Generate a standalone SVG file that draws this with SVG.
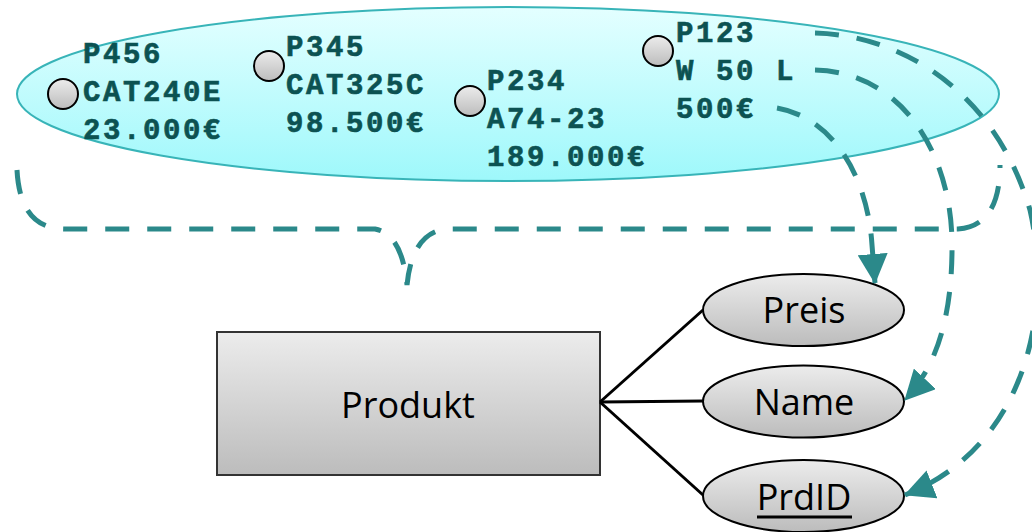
<svg xmlns="http://www.w3.org/2000/svg" width="1032" height="532" viewBox="0 0 1032 532">
  <defs>
    <linearGradient id="cloudFill" x1="0" y1="0" x2="0" y2="1">
      <stop offset="0" stop-color="#e4ffff"/>
      <stop offset="1" stop-color="#9ef8fb"/>
    </linearGradient>
    <linearGradient id="greyFill" x1="0" y1="0" x2="0" y2="1">
      <stop offset="0" stop-color="#ececec"/>
      <stop offset="1" stop-color="#bcbcbc"/>
    </linearGradient>
    <marker id="arrow" markerUnits="userSpaceOnUse" viewBox="0 0 30 30" markerWidth="30" markerHeight="30" refX="29" refY="15" orient="auto">
      <path d="M0,0 L30,15 L0,30 Z" fill="#2b898a"/>
    </marker>
    <style>
      .inst { font-family: "Liberation Mono", "Courier New", monospace; font-weight: bold; font-size: 29px; letter-spacing: 2.6px; fill: #0c5252; stroke: #0c5252; stroke-width: 0.6px; }
      .dot { fill: url(#greyFill); stroke: #000; stroke-width: 2; }
      .er { fill: url(#greyFill); stroke: #000; stroke-width: 2; }
      .label { font-family: "Open Sans", "Noto Sans", sans-serif; font-size: 36px; fill: #000; text-anchor: middle; }
      .dash { fill: none; stroke: #2b898a; stroke-width: 5; stroke-dasharray: 24 18; }
      .link { fill: none; stroke: #000; stroke-width: 3; }
    </style>
  </defs>

  <!-- instance set -->
  <g id="instances">
    <ellipse cx="508" cy="94" rx="491" ry="87" fill="url(#cloudFill)" stroke="#38b4b8" stroke-width="2"/>
  </g>

  <g id="p456">
    <circle class="dot" cx="63" cy="94" r="15"/>
    <text class="inst" x="83" y="63">P456</text>
    <text class="inst" x="83" y="101">CAT240E</text>
    <text class="inst" x="83" y="139">23.000€</text>
  </g>
  <g id="p345">
    <circle class="dot" cx="269" cy="66" r="15"/>
    <text class="inst" x="286" y="56">P345</text>
    <text class="inst" x="286" y="94">CAT325C</text>
    <text class="inst" x="286" y="132">98.500€</text>
  </g>
  <g id="p234">
    <circle class="dot" cx="470" cy="101" r="15"/>
    <text class="inst" x="487" y="90">P234</text>
    <text class="inst" x="487" y="128">A74-23</text>
    <text class="inst" x="487" y="166">189.000€</text>
  </g>
  <g id="p123">
    <circle class="dot" cx="658" cy="51" r="15"/>
    <text class="inst" x="676" y="42">P123</text>
    <text class="inst" x="676" y="80">W 50 L</text>
    <text class="inst" x="676" y="118">500€</text>
  </g>

  <!-- entity and attributes -->
  <g id="produkt">
    <rect x="217" y="332" width="383" height="143" fill="url(#greyFill)" stroke="#333" stroke-width="2"/>
    <text class="label" x="408" y="418">Produkt</text>
  </g>
  <g id="preis">
    <ellipse class="er" cx="803.5" cy="310" rx="100.5" ry="36"/>
    <text class="label" x="804" y="323">Preis</text>
  </g>
  <g id="name">
    <ellipse class="er" cx="803.5" cy="401.5" rx="100.5" ry="36"/>
    <text class="label" x="804" y="415">Name</text>
  </g>
  <g id="prdid">
    <ellipse class="er" cx="803.5" cy="496" rx="100.5" ry="36"/>
    <text class="label" x="804" y="510">PrdID</text>
    <line x1="757" y1="517" x2="852" y2="517" stroke="#000" stroke-width="3"/>
  </g>

  <!-- connectors -->
  <g id="connectors">
    <path class="link" d="M600,402 L703,310"/>
    <path class="link" d="M600,402 L703,401"/>
    <path class="link" d="M600,402 L703,495"/>

    <!-- brace grouping the instances onto the entity -->
    <path class="dash" d="M17,170 Q20,229 65,229 L375,229 Q402,234 407,285 Q412,234 445,229 L958,229 Q1000,226 1000,165"/>

    <path class="dash" marker-end="url(#arrow)" d="M777,108 C835,118 868,180 872,245 L875,283"/>
    <path class="dash" marker-end="url(#arrow)" d="M815,70 C900,72 950,150 952,240 C953,320 935,368 905,400"/>
    <path class="dash" marker-end="url(#arrow)" d="M815,33 C900,35 995,90 1030,210 C1055,320 1020,450 905,495"/>
  </g>
</svg>
